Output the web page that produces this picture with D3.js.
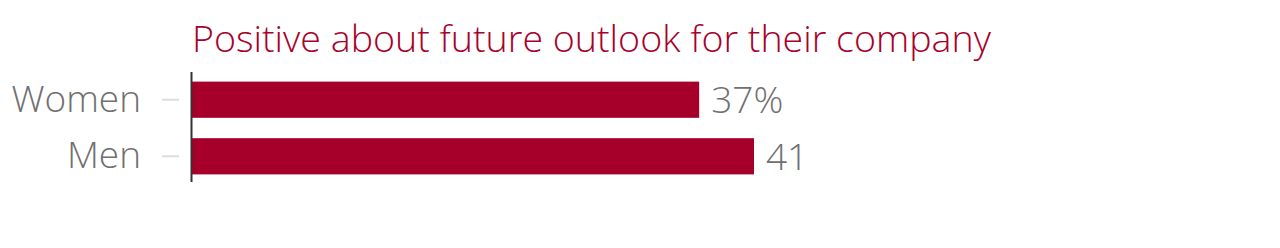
<!DOCTYPE html>
<html>
  <head>
    <meta charset="utf-8">
    <title>Positive about future outlook</title>
    <script src="https://d3js.org/d3.v7.min.js"></script>
    <style>
      body { margin: 0; background: #fff; }
      text { font-family: "Open Sans", sans-serif; font-weight: 300; }
    </style>
  </head>
  <body>
    <div id="chart"></div>
    <script>
      const categories = ["Women", "Men"];
      const values = [37, 41];
      const valueLabels = ["37%", "41"];
      const title = "Positive about future outlook for their company";

      const svg = d3.select("#chart")
        .append("svg")
        .attr("width", 1280)
        .attr("height", 248);

      const xScale = d3.scaleLinear()
        .domain([0, 41])
        .range([192, 754]);

      const yScale = d3.scaleBand()
        .domain(categories)
        .range([72, 184])
        .paddingInner(0.36)
        .paddingOuter(0.17);

      svg.append("text")
        .attr("x", 192)
        .attr("y", 52)
        .attr("font-size", "37.6px")
        .attr("fill", "#a8002a")
        .text(title);

      // category labels and small ticks
      const yAxis = svg.append("g")
        .attr("transform", "translate(179,0)")
        .call(d3.axisLeft(yScale).tickSize(17).tickPadding(21));
      yAxis.select(".domain").remove();
      yAxis.selectAll(".tick line").attr("stroke", "#dcdcdc").attr("stroke-width", 2);
      yAxis.selectAll(".tick text")
        .attr("font-family", "'Open Sans', sans-serif")
        .attr("font-size", "37px")
        .attr("fill", "#707070");

      svg.selectAll("rect.bar")
        .data(values)
        .join("rect")
        .attr("class", "bar")
        .attr("x", xScale(0))
        .attr("y", (_, i) => yScale(categories[i]))
        .attr("width", d => xScale(d) - xScale(0))
        .attr("height", yScale.bandwidth())
        .attr("fill", "#a6002a");

      svg.selectAll("text.value")
        .data(values)
        .join("text")
        .attr("class", "value")
        .attr("x", d => xScale(d) + 12)
        .attr("y", (_, i) => yScale(categories[i]) + yScale.bandwidth() / 2)
        .attr("dy", "0.36em")
        .attr("font-size", "37px")
        .attr("fill", "#707070")
        .text((_, i) => valueLabels[i]);

      // vertical baseline
      svg.append("line")
        .attr("x1", xScale(0) - 0.5)
        .attr("x2", xScale(0) - 0.5)
        .attr("y1", 72)
        .attr("y2", 182)
        .attr("stroke", "#333")
        .attr("stroke-width", 2);
    </script>
  </body>
</html>
